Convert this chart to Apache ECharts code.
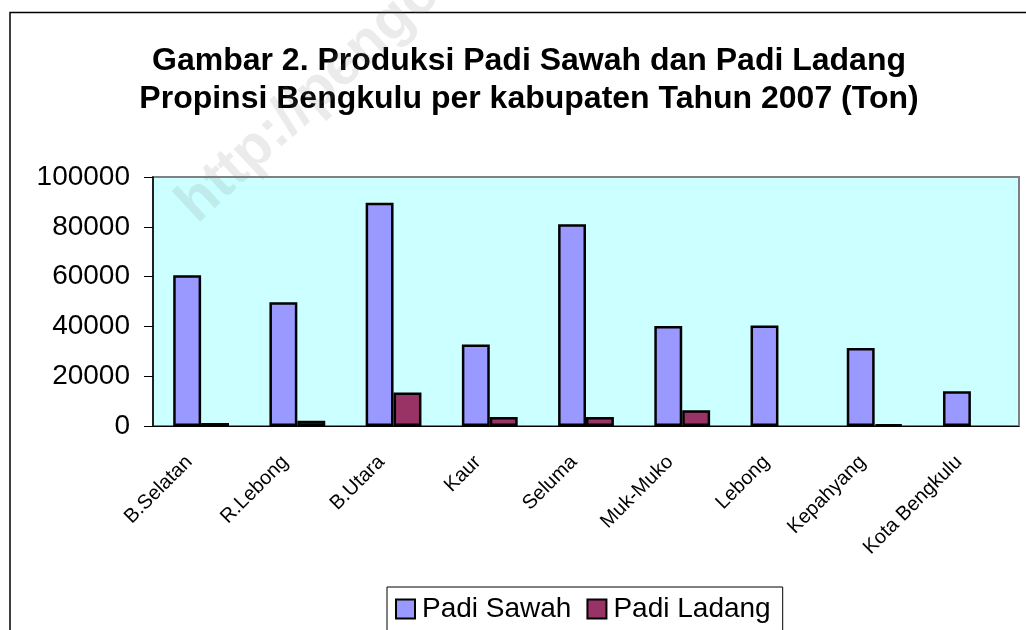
<!DOCTYPE html>
<html>
<head>
<meta charset="utf-8">
<script src="https://cdn.jsdelivr.net/npm/echarts@6/dist/echarts.min.js"></script>
<style>
  html, body { margin: 0; padding: 0; background: #fff; }
  #chart { width: 1026px; height: 630px; }
</style>
</head>
<body>
<div id="chart"></div>
<script>
const categories = ['B.Selatan', 'R.Lebong', 'B.Utara', 'Kaur', 'Seluma', 'Muk-Muko', 'Lebong', 'Kepahyang', 'Kota Bengkulu']
const padiSawah = [60500, 49700, 89700, 32700, 81000, 40200, 40400, 31300, 14000]
const padiLadang = [1200, 2100, 13500, 3600, 3600, 6300, 0, 600, 0]
const yTicks = [0, 20000, 40000, 60000, 80000, 100000]

const font = 'Liberation Sans, Arial, sans-serif'
const chart = echarts.init(document.getElementById('chart'))

// Excel hides zero-height bars, so do the same
const hideZero = arr => arr.map(v => (v === 0 ? '-' : v))

chart.setOption({
  animation: false,
  title: {
    text: 'Gambar 2. Produksi Padi Sawah dan Padi Ladang\nPropinsi Bengkulu per kabupaten Tahun 2007 (Ton)',
    left: 529,
    top: 42,
    padding: 0,
    textAlign: 'center',
    textStyle: {
      fontFamily: font,
      fontSize: 32,
      fontWeight: 'bold',
      color: '#000',
      lineHeight: 38,
    },
  },
  legend: {
    data: ['Padi Sawah', 'Padi Ladang'],
    left: 387,
    top: 587,
    padding: [8, 12, 8, 8],
    itemWidth: 19,
    itemHeight: 19,
    itemGap: 15,
    icon: 'rect',
    borderColor: '#000',
    borderWidth: 1,
    textStyle: { fontFamily: font, fontSize: 28, color: '#000', padding: [0, 0, 0, 2] },
  },
  graphic: [
    {
      // outer chart-area frame
      type: 'rect',
      shape: { x: 10, y: 12.5, width: 1100, height: 700 },
      style: { fill: 'none', stroke: '#000', lineWidth: 1.5 },
      silent: true,
      z: -1,
    },
    {
      type: 'text',
      x: 206,
      y: 234,
      rotation: Math.PI / 4.2,
      style: {
        text: 'http://pengo',
        fontFamily: font,
        fontWeight: 'bold',
        fontSize: 58,
        fill: 'rgba(120,120,120,0.15)',
        textVerticalAlign: 'bottom',
      },
      silent: true,
      z: 100,
    },
  ],
  grid: {
    left: 153,
    right: 7,
    top: 177,
    bottom: 204,
    show: true,
    backgroundColor: '#ccffff',
    borderColor: '#808080',
    borderWidth: 2,
  },
  xAxis: {
    type: 'category',
    data: categories,
    axisLine: { lineStyle: { color: '#000', width: 1 } },
    axisTick: { show: false },
    axisLabel: {
      rotate: 45,
      margin: 21,
      padding: [0, 17, 0, 0],
      fontFamily: font,
      fontSize: 20,
      color: '#000',
    },
  },
  yAxis: {
    type: 'value',
    min: yTicks[0],
    max: yTicks[yTicks.length - 1],
    interval: yTicks[1] - yTicks[0],
    splitLine: { show: false },
    axisLine: { show: true, lineStyle: { color: '#000', width: 1.5 } },
    axisTick: { show: true, length: 9, lineStyle: { color: '#000', width: 1 } },
    axisLabel: {
      margin: 23,
      fontFamily: font,
      fontSize: 28,
      color: '#000',
      formatter: v => String(v),
    },
  },
  series: [
    {
      name: 'Padi Sawah',
      type: 'bar',
      data: hideZero(padiSawah),
      barGap: '0%',
      barCategoryGap: '42%',
      itemStyle: { color: '#9999ff', borderColor: '#000', borderWidth: 2.5 },
    },
    {
      name: 'Padi Ladang',
      type: 'bar',
      data: hideZero(padiLadang),
      itemStyle: { color: '#993366', borderColor: '#000', borderWidth: 2.5 },
    },
  ],
})
</script>
</body>
</html>
